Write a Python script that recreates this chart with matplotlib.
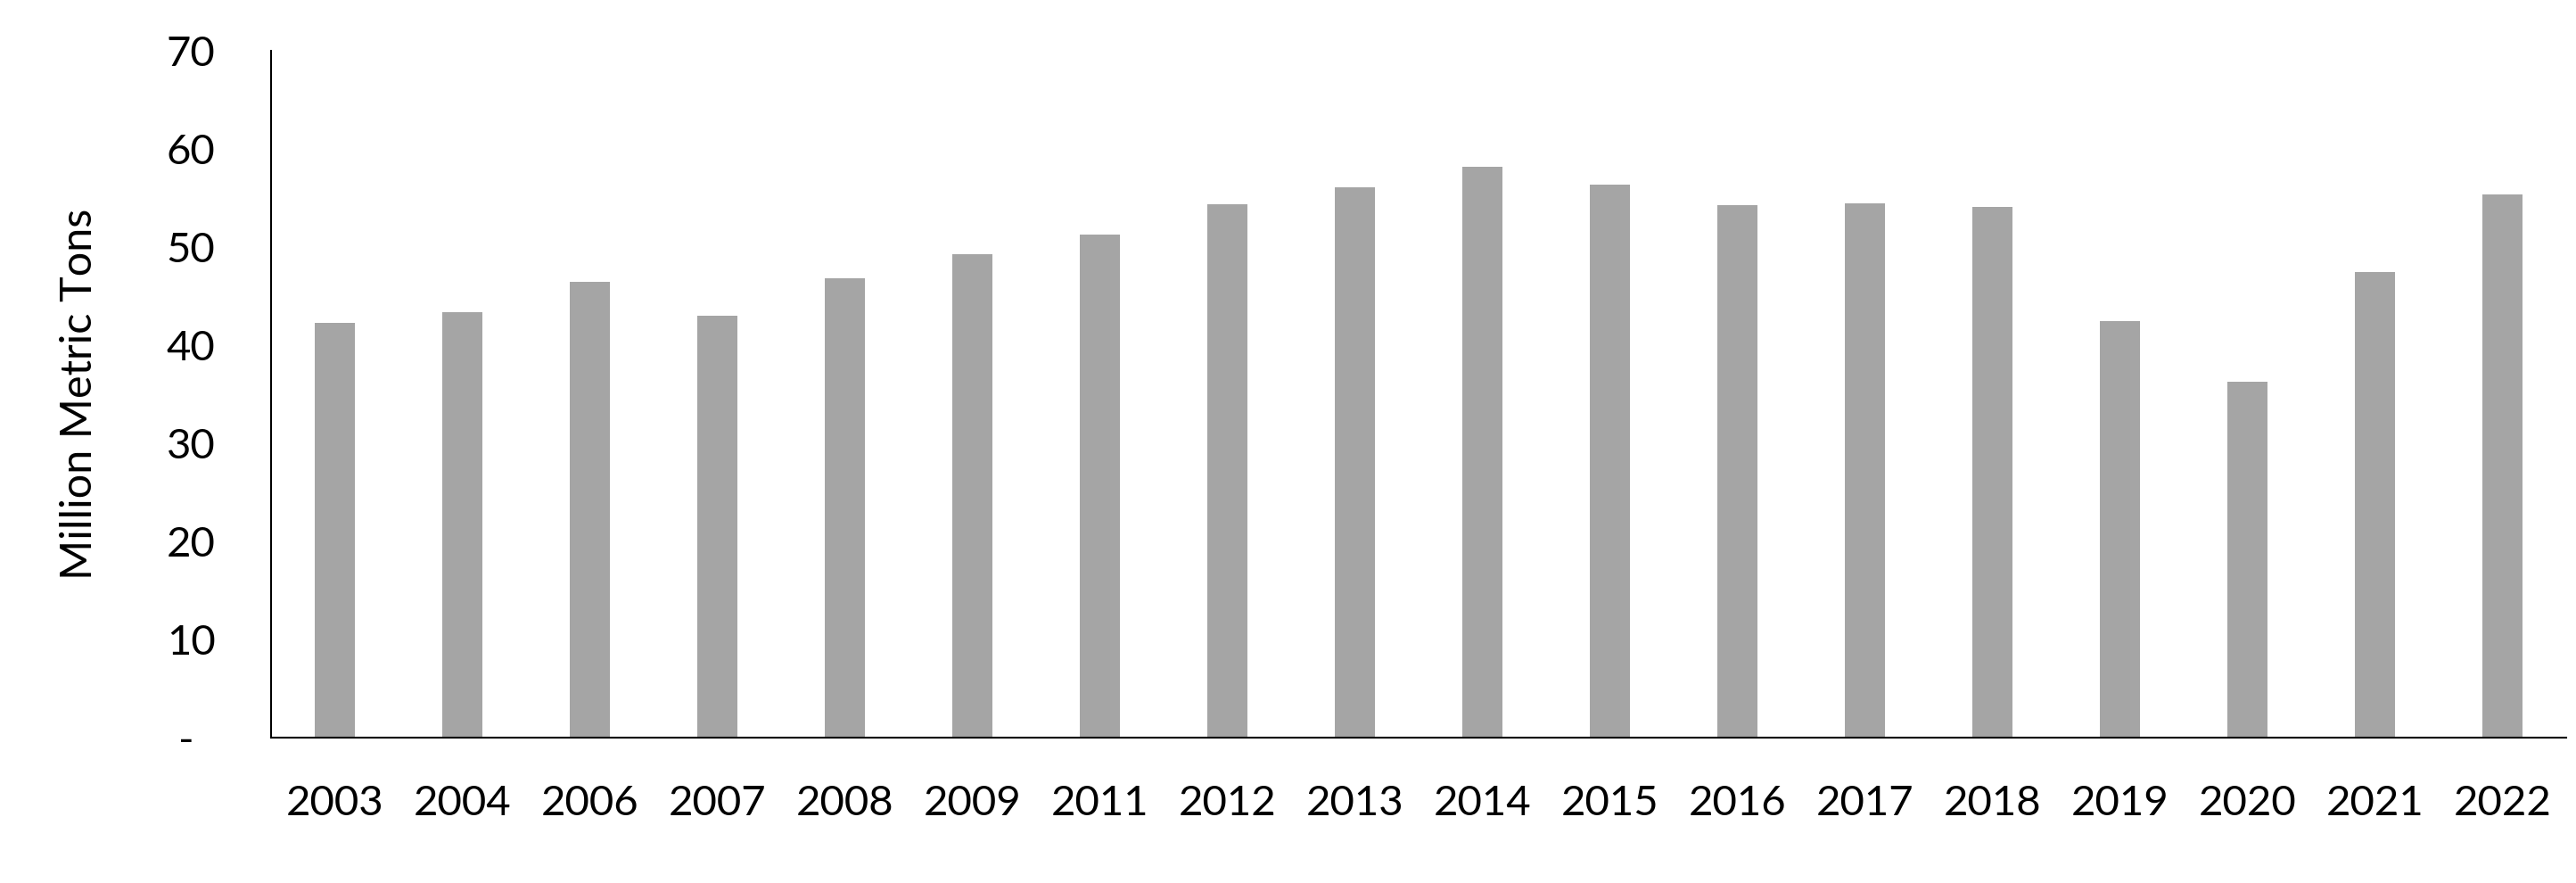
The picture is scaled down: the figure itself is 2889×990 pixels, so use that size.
import matplotlib
matplotlib.use("Agg")
from matplotlib import pyplot as plt
import numpy as np

years = ['2003', '2004', '2006', '2007', '2008', '2009', '2011', '2012', '2013',
         '2014', '2015', '2016', '2017', '2018', '2019', '2020', '2021', '2022']
tons = [42.3, 43.4, 46.5, 43.0, 46.8, 49.3, 51.3, 54.4, 56.1,
        58.2, 56.4, 54.3, 54.5, 54.1, 42.5, 36.3, 47.5, 55.4]
y_ticks = [0, 10, 20, 30, 40, 50, 60, 70]
y_ticklabels = ['-  ', '10', '20', '30', '40', '50', '60', '70']

plt.rcParams['font.family'] = ['Lato', 'DejaVu Sans']

fig = plt.figure(figsize=(28.89, 9.9), dpi=100)
ax = fig.add_axes([0.1052, 0.1646, 0.891, 0.7778])

x = np.arange(len(years))
ax.bar(x, tons, width=0.31, color='#a5a5a5')

ax.set_xlim(-0.5, len(years) - 0.5)
ax.set_ylim(0, 70)
ax.set_xticks(x)
ax.set_xticklabels(years)
ax.set_yticks(y_ticks)
ax.set_yticklabels(y_ticklabels)
ax.tick_params(axis='both', length=0, labelsize=34)
ax.tick_params(axis='x', pad=38)
ax.tick_params(axis='y', pad=45)

for side in ['top', 'right']:
    ax.spines[side].set_visible(False)
for side in ['left', 'bottom']:
    ax.spines[side].set_linewidth(1.5)
    ax.spines[side].set_color('black')

ax.set_ylabel('Million Metric Tons', fontsize=35)
ax.yaxis.set_label_coords(-0.075, 0.5)

fig.savefig('out.png', dpi=100)
